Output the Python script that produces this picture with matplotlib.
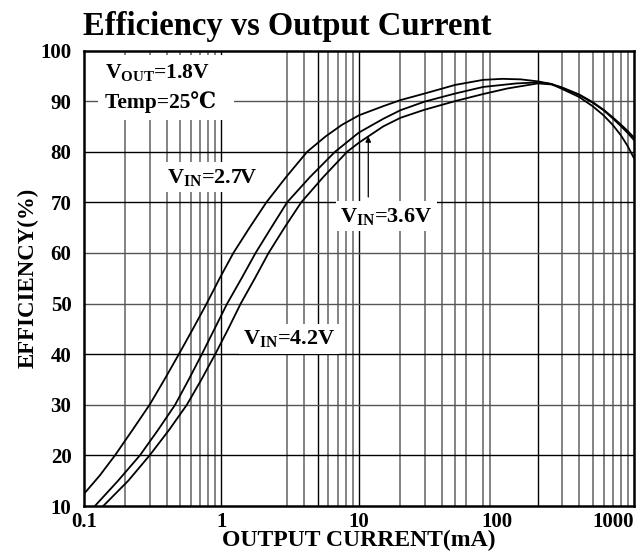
import matplotlib
matplotlib.use("Agg")
import matplotlib.pyplot as plt

# efficiency curves (current in mA, efficiency in %)
vin27_current = [0.1, 0.13, 0.168, 0.225, 0.3, 0.385, 0.49, 0.62, 0.78, 0.97, 1.22, 1.6, 2.12, 2.95, 4.2,
                 5.7, 7.5, 10, 15, 20, 30, 50, 80, 110, 150, 200, 250, 300, 400, 500, 600, 700, 800, 900, 1000]
vin27_eff = [12.4, 16, 20, 25, 30, 35, 40, 45, 50, 55, 60, 65, 70, 75, 80,
             83, 85.3, 87.2, 89, 90.2, 91.5, 93.2, 94.2, 94.4, 94.3, 93.9, 93.4, 92.4, 90.8, 89.0, 87.2, 85.3, 83.3, 81.1, 78.7]

vin36_current = [0.12, 0.177, 0.255, 0.345, 0.46, 0.578, 0.72, 0.89, 1.1, 1.4, 1.77, 2.3, 3.0, 4.4,
                 6.7, 10, 15, 20, 30, 50, 80, 140, 200, 250, 300, 400, 500, 600, 700, 800, 900, 1000]
vin36_eff = [10, 15, 20, 25, 30, 35, 40, 45, 50, 55, 60, 65, 70, 75,
             80, 83.8, 86.5, 88.2, 89.9, 91.5, 92.8, 93.5, 93.7, 93.4, 92.7, 91.3, 89.8, 88.3, 86.8, 85.4, 84.1, 82.8]

vin42_current = [0.138, 0.21, 0.30, 0.415, 0.56, 0.715, 0.9, 1.12, 1.38, 1.75, 2.2, 2.87, 3.8, 5.5,
                 8.2, 10, 15, 20, 30, 50, 80, 120, 200, 250, 300, 400, 500, 600, 700, 800, 900, 1000]
vin42_eff = [10, 15, 20, 25, 30, 35, 40, 45, 50, 55, 60, 65, 70, 75,
             80, 81.8, 85, 86.7, 88.3, 90.0, 91.4, 92.5, 93.5, 93.3, 92.6, 91.2, 89.7, 88.2, 86.6, 85.1, 83.7, 82.3]

x_ticks = [0.1, 1, 10, 100, 1000]
x_tick_labels = ["0.1", "1", "10", "100", "1000"]
y_ticks = [10, 20, 30, 40, 50, 60, 70, 80, 90, 100]

# the scanned grid is irregular: some lines missing, some darker
x_grid_gray = [0.2, 0.3, 0.4, 0.5, 0.6, 0.7, 0.8, 0.9, 3, 4, 6, 7, 8, 9,
               20, 30, 40, 50, 60, 80, 90, 300, 400, 500, 600, 700, 800, 900]
x_grid_dark = [1, 5, 10, 200]
y_grid_gray = [90, 60, 50, 30]
y_grid_dark = [80, 70, 40, 20]

serif = ["Liberation Serif", "DejaVu Serif"]
plt.rcParams["font.family"] = serif
plt.rcParams["font.weight"] = "bold"
plt.rcParams["mathtext.fontset"] = "custom"
plt.rcParams["mathtext.rm"] = "Liberation Serif:bold"
plt.rcParams["mathtext.default"] = "rm"

fig = plt.figure(figsize=(6.44, 5.52), dpi=100)
ax = fig.add_axes([0.1304, 0.0833, 0.8541, 0.8252])

for xv in x_grid_gray:
    ax.axvline(xv, color="#7a7a7a", lw=1.3, zorder=1)
for xv in x_grid_dark:
    ax.axvline(xv, color="black", lw=1.0, zorder=1)
for yv in y_grid_gray:
    ax.axhline(yv, color="#555555", lw=1.0, zorder=1)
for yv in y_grid_dark:
    ax.axhline(yv, color="black", lw=1.0, zorder=1)

for cur, eff in [(vin27_current, vin27_eff), (vin36_current, vin36_eff), (vin42_current, vin42_eff)]:
    ax.plot(cur, eff, color="black", lw=1.3, zorder=4)

ax.set_xscale("log")
ax.set_xlim(0.1, 1000)
ax.set_ylim(10, 100)
ax.set_xticks(x_ticks)
ax.set_xticklabels(x_tick_labels)
ax.set_xticks([], minor=True)
ax.set_yticks(y_ticks)
ax.tick_params(axis="both", length=0, labelsize=15)
ax.tick_params(axis="x", pad=4)
ax.tick_params(axis="y", pad=9)
ax.get_xticklabels()[-1].set_horizontalalignment("right")
for s in ax.spines.values():
    s.set_linewidth(1.8)
    s.set_zorder(5)

ax.set_xlabel("OUTPUT CURRENT(mA)", fontsize=17, fontweight="bold", labelpad=-1)
ax.set_ylabel("EFFICIENCY(%)", fontsize=16.5, fontweight="bold", labelpad=1)
fig.text(0.129, 0.937, "Efficiency vs Output Current", fontsize=23.5, fontweight="bold", ha="left", va="baseline")

box = dict(facecolor="white", edgecolor="none", pad=3)
ax.text(0.142, 92.7, "V$_{OUT}$=1.8V  \nTemp=25\u2103  ", fontsize=15.5, ha="left", va="center",
        linespacing=1.45, bbox=dict(facecolor="white", edgecolor="none", pad=5), zorder=3)
ax.text(0.401, 75.0, "V$_{IN}$=2.7V", fontsize=16, ha="left", va="center", bbox=box, zorder=3)
ax.text(7.27, 67.3, "V$_{IN}$=3.6V", fontsize=16, ha="left", va="center", bbox=box, zorder=3)
ax.text(1.43, 43.0, "V$_{IN}$=4.2V", fontsize=16, ha="left", va="center", bbox=box, zorder=3)
ax.annotate("", xy=(11.68, 83.6), xytext=(11.68, 70.5),
            arrowprops=dict(arrowstyle="-|>", color="black", lw=0.9, mutation_scale=8), zorder=4)

fig.savefig("out.png", dpi=100)
